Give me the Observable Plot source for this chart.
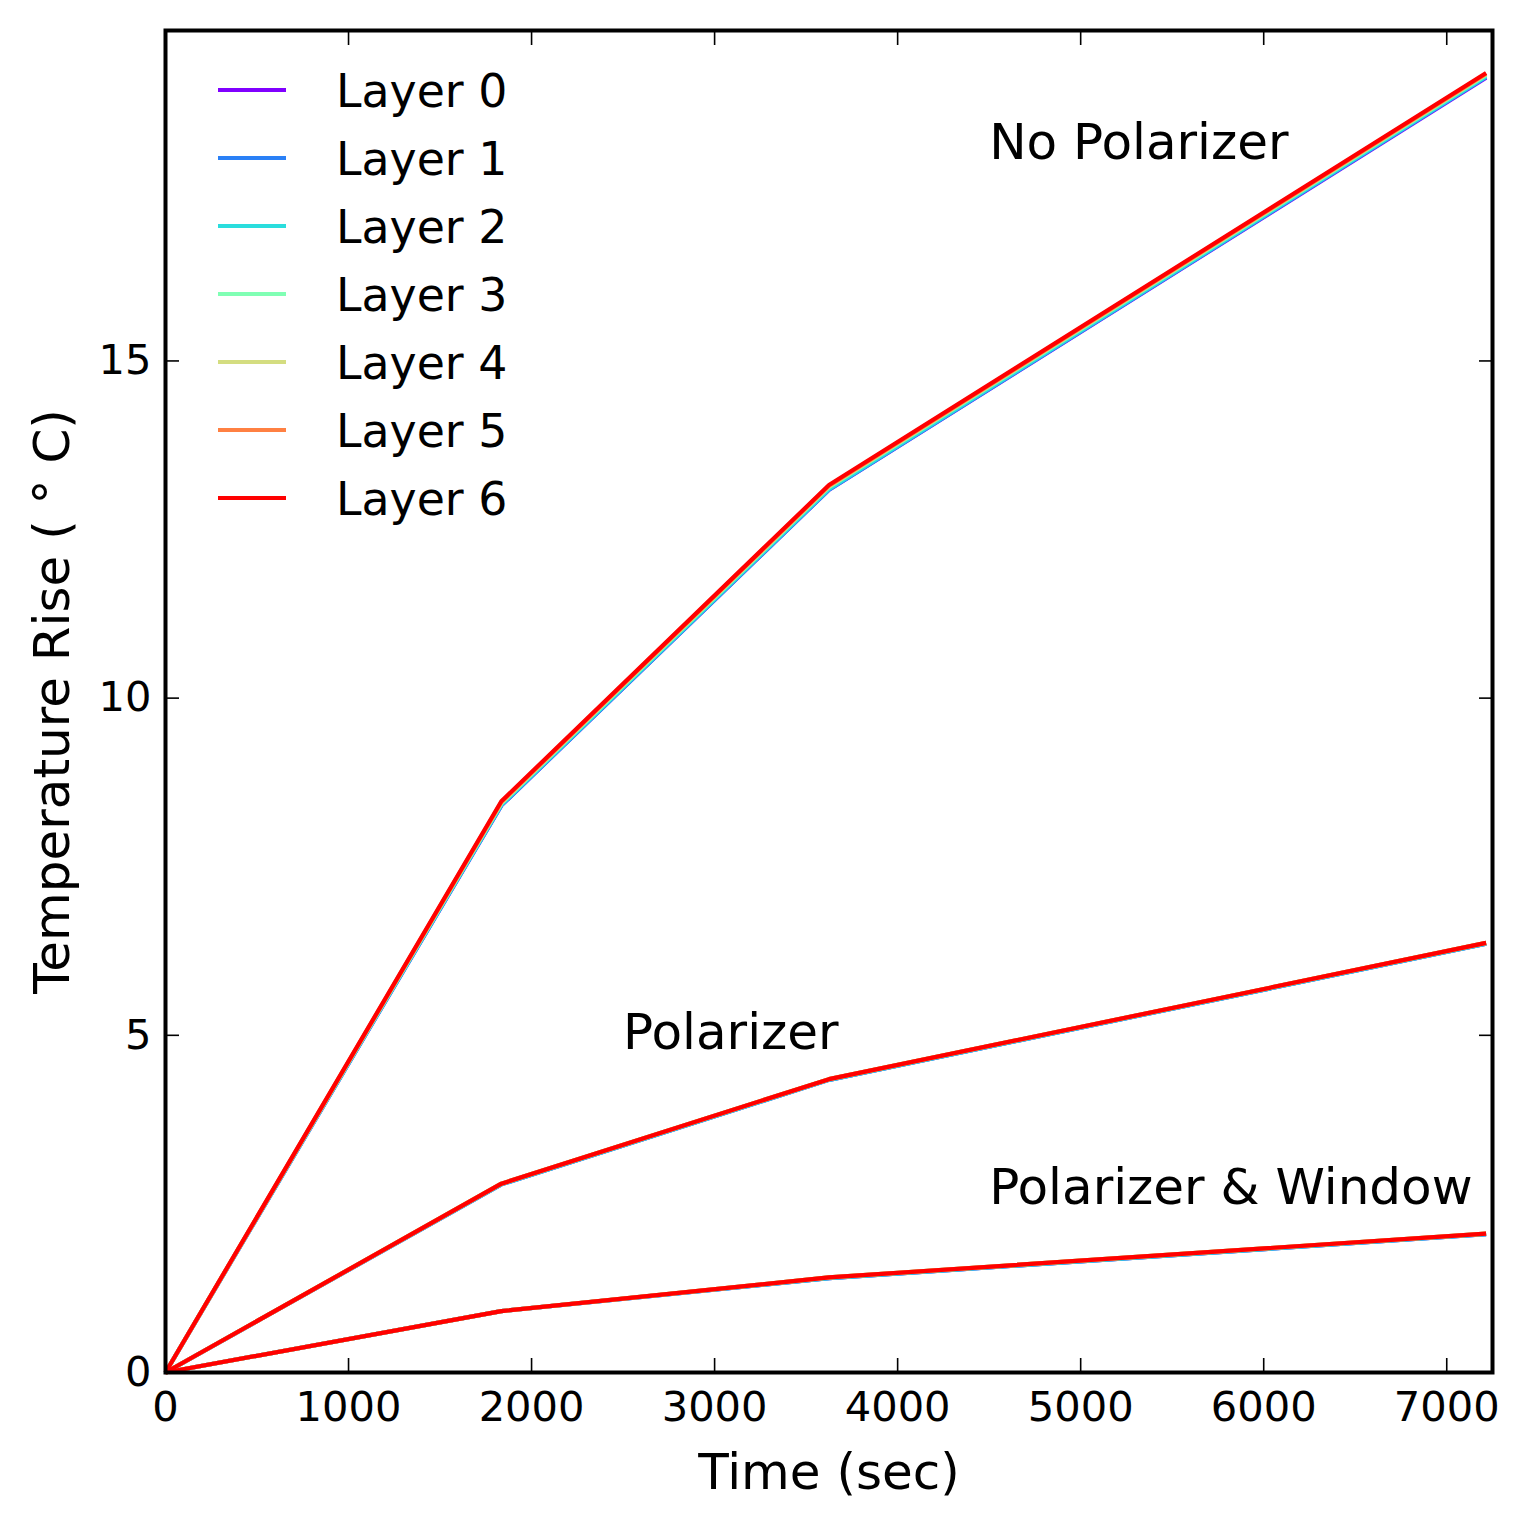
<!DOCTYPE html>
<html><head><meta charset="utf-8">
<script src="https://cdn.jsdelivr.net/npm/d3@7"></script>
<script src="https://cdn.jsdelivr.net/npm/@observablehq/plot@0.6"></script>
<style>
body{margin:0;background:#fff;}
#wrap{position:relative;width:1525px;height:1530px;font-family:"DejaVu Sans",sans-serif;}
#wrap svg{display:block;}
.lg-line{position:absolute;left:218px;width:68px;height:4px;}
.lg-text{position:absolute;left:336px;font-size:45.8px;line-height:1;white-space:nowrap;color:#000;}
</style></head><body><div id="wrap"></div>
<script>
// ---- data ----
const times = [0, 1835, 3625, 7215];
const layers = ["Layer 0", "Layer 1", "Layer 2", "Layer 3", "Layer 4", "Layer 5", "Layer 6"];
const layerColors = ["#8000ff", "#2a80f6", "#2adddd", "#80ffb4", "#d4dd80", "#ff8042", "#ff0000"];
const noPolarizer = [
  [0, 8.41, 13.09, 19.20],
  [0, 8.41, 13.09, 19.21],
  [0, 8.42, 13.10, 19.22],
  [0, 8.44, 13.13, 19.24],
  [0, 8.45, 13.14, 19.25],
  [0, 8.46, 13.15, 19.26],
  [0, 8.47, 13.16, 19.27]
];
const polarizer = [
  [0, 2.79, 4.34, 6.36],
  [0, 2.79, 4.34, 6.36],
  [0, 2.79, 4.34, 6.36],
  [0, 2.80, 4.35, 6.37],
  [0, 2.80, 4.35, 6.37],
  [0, 2.80, 4.35, 6.37],
  [0, 2.80, 4.35, 6.37]
];
const polarizerWindow = [
  [0, 0.91, 1.40, 2.05],
  [0, 0.91, 1.40, 2.05],
  [0, 0.91, 1.40, 2.05],
  [0, 0.91, 1.41, 2.06],
  [0, 0.91, 1.41, 2.06],
  [0, 0.91, 1.41, 2.06],
  [0, 0.91, 1.41, 2.06]
];
const annotationText = ["No Polarizer", "Polarizer", "Polarizer & Window"];
const annotationX = [4500, 2500, 4500];
const annotationY = [18, 4.8, 2.5];
const xTicks = [0, 1000, 2000, 3000, 4000, 5000, 6000, 7000];
const yTicks = [0, 5, 10, 15];
const xDomain = [0, 7250];
const yDomain = [0, 19.9];
const xLabel = "Time (sec)";
const yLabel = "Temperature Rise ( ° C)";

// ---- build table ----
const configs = [["noPolarizer", noPolarizer], ["polarizer", polarizer], ["polarizerWindow", polarizerWindow]];
const rows = [];
layers.forEach((layer, li) => {
  configs.forEach(([cname, vals]) => {
    times.forEach((t, ti) => rows.push({layer, config: cname, key: layer + "|" + cname, t, v: vals[li][ti]}));
  });
});
const annotations = annotationText.map((text, i) => ({text, x: annotationX[i], y: annotationY[i]}));

const fontFamily = '"DejaVu Sans", sans-serif';
const chart = Plot.plot({
  width: 1525,
  height: 1530,
  marginLeft: 165,
  marginRight: 33,
  marginTop: 30,
  marginBottom: 158,
  style: {fontFamily, background: "#fff", color: "#000"},
  x: {domain: xDomain},
  y: {domain: yDomain},
  color: {domain: layers, range: layerColors},
  marks: [
    ...layers.map(layer => Plot.line(rows.filter(d => d.layer === layer), {
      x: "t", y: "v", z: "key", stroke: "layer", strokeWidth: 4.2, strokeLinejoin: "round", strokeLinecap: "butt"
    })),
    Plot.text(annotations, {x: "x", y: "y", text: "text", textAnchor: "start", lineAnchor: "bottom", fontSize: 50, fill: "#000"}),
    // inward ticks on all four sides
    Plot.axisX({ticks: xTicks, anchor: "bottom", tickSize: -14, tickFormat: () => "", label: null, strokeWidth: 1.6}),
    Plot.axisX({ticks: xTicks, anchor: "top", tickSize: -14, tickFormat: () => "", label: null, strokeWidth: 1.6}),
    Plot.axisY({ticks: yTicks, anchor: "left", tickSize: -14, tickFormat: () => "", label: null, strokeWidth: 1.6}),
    Plot.axisY({ticks: yTicks, anchor: "right", tickSize: -14, tickFormat: () => "", label: null, strokeWidth: 1.6}),
    // tick labels
    Plot.axisX({ticks: xTicks, anchor: "bottom", tickSize: 0, tickPadding: 19, fontSize: 41.6, tickFormat: d => String(d), label: null}),
    Plot.axisY({ticks: yTicks, anchor: "left", tickSize: 0, tickPadding: 14, fontSize: 41.6, tickFormat: d => String(d), label: null}),
    // axis titles
    Plot.axisX({ticks: [], anchor: "bottom", tickSize: 0, fontSize: 50,
      label: xLabel, labelAnchor: "center", labelArrow: "none", labelOffset: 116}),
    Plot.axisY({ticks: [], anchor: "left", tickSize: 0, fontSize: 50,
      label: yLabel, labelAnchor: "center", labelArrow: "none", labelOffset: 132}),
    Plot.frame({stroke: "#000", strokeWidth: 4})
  ]
});
const wrap = document.getElementById("wrap");
wrap.appendChild(chart);

// legend (inside the axes, upper left)
layers.forEach((layer, i) => {
  const cy = 89.7 + 68 * i;
  const line = document.createElement("div");
  line.className = "lg-line";
  line.style.top = (cy - 2) + "px";
  line.style.background = layerColors[i];
  wrap.appendChild(line);
  const txt = document.createElement("div");
  txt.className = "lg-text";
  txt.style.top = (cy - 21.2) + "px";
  txt.textContent = layer;
  wrap.appendChild(txt);
});
</script></body></html>
